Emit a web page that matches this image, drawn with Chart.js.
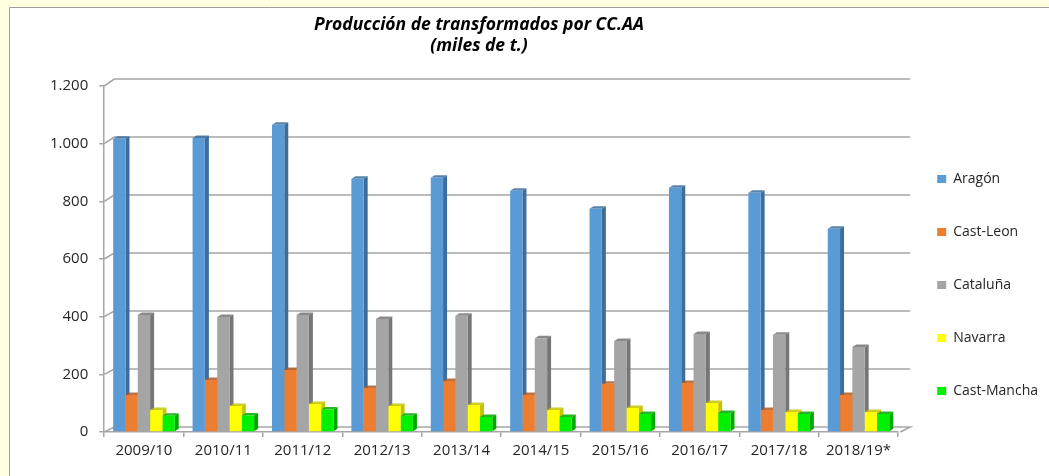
<!DOCTYPE html>
<html lang="es">
<head>
<meta charset="utf-8">
<title>Producción de transformados por CC.AA</title>
<script src="https://cdn.jsdelivr.net/npm/chart.js@4.4.1/dist/chart.umd.min.js"></script>
<style>
  html, body { margin: 0; padding: 0; background: #FFFFE1; }
  #grafico { display: block; }
</style>
</head>
<body>
<canvas id="grafico" width="1049" height="476"></canvas>
<script>
// datos (miles de t.)
const campanas = ['2009/10', '2010/11', '2011/12', '2012/13', '2013/14',
                  '2014/15', '2015/16', '2016/17', '2017/18', '2018/19*'];
const aragon     = [1017, 1020, 1066, 878, 882, 837, 774, 847, 830, 705];
const castLeon   = [128, 180, 215, 153, 177, 128, 167, 170, 76, 128];
const cataluna   = [406, 399, 406, 392, 403, 325, 316, 340, 337, 295];
const navarra    = [76, 90, 97, 90, 94, 76, 83, 101, 69, 69];
const castMancha = [56, 57, 78, 56, 52, 52, 62, 66, 62, 62];
const ticksEje   = [0, 200, 400, 600, 800, 1000, 1200];

const tituloLineas = ['Producción de transformados por CC.AA', '(miles de t.)'];

// color frontal y color del lateral (efecto 3D)
const colores = {
    'Aragón':      ['#5B9BD5', '#3D6D9C'],
    'Cast-Leon':   ['#ED7D31', '#B05C22'],
    'Cataluña':    ['#A5A5A5', '#767676'],
    'Navarra':     ['#FFFF00', '#C4C400'],
    'Cast-Mancha': ['#00F000', '#00A800']
};

const fondo = {
    id: 'fondo',
    beforeDraw(chart) {
        const ctx = chart.ctx;
        ctx.save();
        ctx.fillStyle = '#FFFFE1';
        ctx.fillRect(0, 0, chart.width, chart.height);
        ctx.fillStyle = '#FFFFFF';
        ctx.fillRect(9, 7, chart.width - 9, chart.height - 7);
        ctx.strokeStyle = '#A0A0A0';
        ctx.lineWidth = 1;
        ctx.beginPath();
        ctx.moveTo(9.5, chart.height);
        ctx.lineTo(9.5, 7.5);
        ctx.lineTo(chart.width, 7.5);
        ctx.stroke();
        ctx.restore();
    }
};

// pared del fondo con las líneas de división y caras laterales de las barras
const efecto3D = {
    id: 'efecto3D',
    beforeDatasetsDraw(chart) {
        const ctx = chart.ctx;
        const area = chart.chartArea;
        const y = chart.scales.y;
        ctx.save();
        ctx.strokeStyle = '#A6A6A6';
        ctx.lineWidth = 1.6;
        ticksEje.forEach(v => {
            const yf = y.getPixelForValue(v);
            const yb = yf - (5 + 2 * v / 1200);
            ctx.beginPath();
            ctx.moveTo(area.left, yf);
            ctx.lineTo(area.left + 10, yb);
            ctx.lineTo(area.right + 12, yb);
            if (v === 0) ctx.lineTo(area.right + 2, yf);
            ctx.stroke();
        });

        const dx = 4, dy = 2.5;
        chart.data.datasets.forEach((ds, i) => {
            const lado = colores[ds.label][1];
            chart.getDatasetMeta(i).data.forEach(bar => {
                const w = bar.width / 2;
                ctx.fillStyle = lado;
                ctx.beginPath();
                ctx.moveTo(bar.x + w, bar.y);
                ctx.lineTo(bar.x + w + dx, bar.y - dy);
                ctx.lineTo(bar.x + w + dx, bar.base - dy);
                ctx.lineTo(bar.x + w, bar.base);
                ctx.closePath();
                ctx.fill();
                ctx.globalAlpha = 0.85;
                ctx.beginPath();
                ctx.moveTo(bar.x - w, bar.y);
                ctx.lineTo(bar.x - w + dx, bar.y - dy);
                ctx.lineTo(bar.x + w + dx, bar.y - dy);
                ctx.lineTo(bar.x + w, bar.y);
                ctx.closePath();
                ctx.fill();
                ctx.globalAlpha = 1;
            });
        });
        ctx.restore();
    }
};

const titulo = {
    id: 'titulo',
    afterDraw(chart) {
        const ctx = chart.ctx;
        ctx.save();
        ctx.fillStyle = '#000000';
        ctx.font = 'italic bold 17.5px "Open Sans"';
        ctx.textAlign = 'center';
        ctx.textBaseline = 'middle';
        ctx.fillText(tituloLineas[0], 479, 25);
        ctx.fillText(tituloLineas[1], 479, 46);
        ctx.restore();
    }
};

function serie(nombre, valores) {
    return {
        label: nombre,
        data: valores,
        backgroundColor: colores[nombre][0],
        borderWidth: 0,
        barPercentage: 1.0,
        categoryPercentage: 0.775
    };
}

const ctx = document.getElementById('grafico');
new Chart(ctx, {
    type: 'bar',
    data: {
        labels: campanas,
        datasets: [
            serie('Aragón', aragon),
            serie('Cast-Leon', castLeon),
            serie('Cataluña', cataluna),
            serie('Navarra', navarra),
            serie('Cast-Mancha', castMancha)
        ]
    },
    plugins: [fondo, efecto3D, titulo],
    options: {
        responsive: false,
        animation: false,
        layout: { padding: { top: 86, left: 39, right: 1, bottom: 11 } },
        plugins: {
            tooltip: { enabled: false },
            legend: {
                position: 'right',
                title: { display: true, text: '', padding: 0, font: { size: 16, lineHeight: 1.2 } },
                labels: {
                    boxWidth: 9,
                    boxHeight: 8,
                    padding: 39,
                    color: '#262626',
                    font: { family: 'Open Sans', size: 14 }
                }
            }
        },
        scales: {
            x: {
                grid: { display: true, drawOnChartArea: false, color: '#A6A6A6', tickLength: 5, lineWidth: 1.5 },
                border: { display: true, color: '#A6A6A6', width: 1.5 },
                ticks: { color: '#262626', padding: 5, font: { family: 'Open Sans', size: 15 } }
            },
            y: {
                min: 0,
                max: 1200,
                afterBuildTicks: axis => { axis.ticks = ticksEje.map(v => ({ value: v })); },
                grid: { display: true, drawOnChartArea: false, color: '#A6A6A6', tickLength: 5, lineWidth: 1.5 },
                border: { display: true, color: '#A6A6A6', width: 1.5 },
                ticks: {
                    color: '#262626',
                    padding: 11,
                    font: { family: 'Open Sans', size: 15 },
                    callback: v => v.toString().replace(/\B(?=(\d{3})+(?!\d))/g, '.')
                }
            }
        }
    }
});
</script>
</body>
</html>
